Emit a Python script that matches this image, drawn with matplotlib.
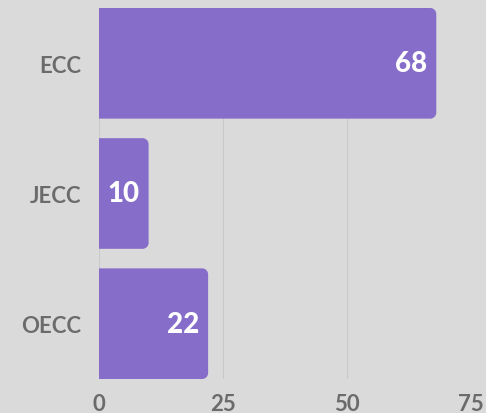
import matplotlib
matplotlib.use("Agg")
import matplotlib.pyplot as plt
from matplotlib.path import Path
from matplotlib.patches import PathPatch

categories = ["ECC", "JECC", "OECC"]
values = [68, 10, 22]
xticks = [0, 25, 50, 75]

BG = "#dadada"
BAR = "#876dca"
TXT = "#6b6b6b"

plt.rcParams['font.family'] = ['Lato', 'DejaVu Sans']

W, H = 486, 414
fig = plt.figure(figsize=(W / 100, H / 100), dpi=100, facecolor=BG)
ax = fig.add_axes([99 / W, 1 - 380 / H, (471 - 99) / W, (380 - 9) / H], facecolor=BG)

ypos = list(range(len(categories)))
bars = ax.barh(ypos, values, height=0.85, color=BAR)
ax.set_xlim(0, 75)
ax.set_ylim(len(categories) - 1 + 0.425, -0.425)

# replace rectangles by shapes with rounded right corners
px_x = (471 - 99) / 75.0
px_y = (380 - 9) / (len(categories) - 1 + 0.85)
r_px = 6
rx, ry = r_px / px_x, r_px / px_y
k = 0.5523
for b in bars:
    x0, y0 = b.get_x(), b.get_y()
    x1, y1 = x0 + b.get_width(), y0 + b.get_height()
    verts = [
        (x0, y0),
        (x1 - rx, y0),
        (x1 - rx + k * rx, y0), (x1, y0 + ry - k * ry), (x1, y0 + ry),
        (x1, y1 - ry),
        (x1, y1 - ry + k * ry), (x1 - rx + k * rx, y1), (x1 - rx, y1),
        (x0, y1),
        (x0, y0),
    ]
    codes = [Path.MOVETO, Path.LINETO,
             Path.CURVE4, Path.CURVE4, Path.CURVE4,
             Path.LINETO,
             Path.CURVE4, Path.CURVE4, Path.CURVE4,
             Path.LINETO, Path.CLOSEPOLY]
    ax.add_patch(PathPatch(Path(verts, codes), facecolor=BAR, edgecolor='none', zorder=3))
    b.set_visible(False)

for y, v in zip(ypos, values):
    ax.annotate(str(v), xy=(v, y), xytext=(-9, 0), textcoords="offset pixels",
                ha="right", va="center", color="white", fontsize=20, fontweight="black", zorder=4)

ax.set_xticks(xticks)
ax.set_yticks(ypos)
ax.set_yticklabels(categories)
ax.tick_params(axis='both', length=0, colors=TXT, labelsize=16)
ax.tick_params(axis='y', pad=13)
ax.tick_params(axis='x', pad=10)
for lab in ax.get_xticklabels() + ax.get_yticklabels():
    lab.set_fontweight("bold")
ax.grid(axis='x', color="#c9c9c9", linewidth=0.8, zorder=0)
ax.set_axisbelow(True)
for s in ax.spines.values():
    s.set_visible(False)

fig.savefig("out.png", dpi=100, facecolor=BG)
